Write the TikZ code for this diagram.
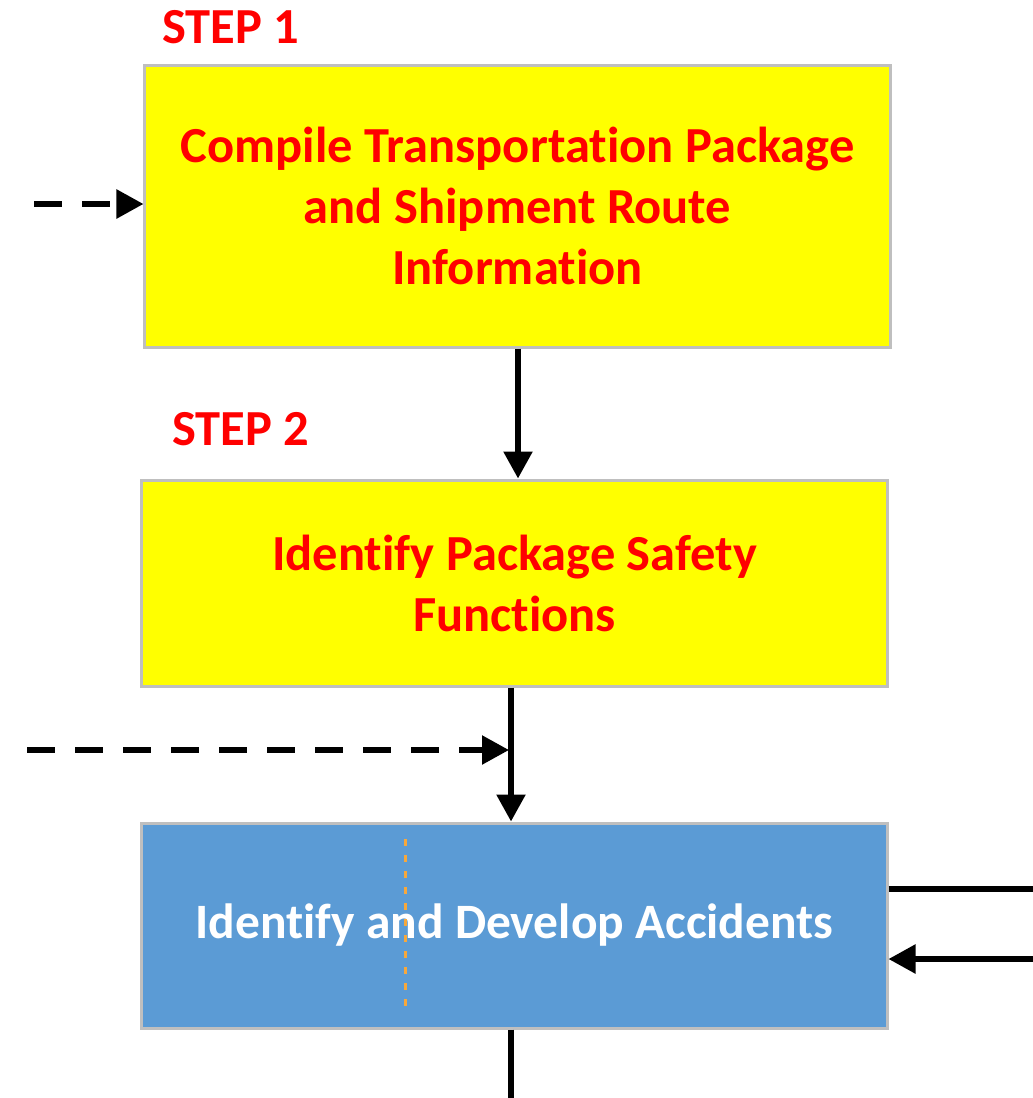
\documentclass[tikz,border=0pt]{standalone}
\usepackage{fontspec}
\setmainfont{Carlito}[Ligatures=NoCommon]
\usetikzlibrary{arrows.meta,calc}
\definecolor{stepred}{RGB}{255,0,0}
\definecolor{boxyellow}{RGB}{255,255,0}
\definecolor{boxblue}{RGB}{91,155,213}
\definecolor{boxedge}{RGB}{191,191,191}
\definecolor{guide}{RGB}{247,168,60}
\begin{document}
\begin{tikzpicture}[x=1bp,y=-1bp,
  box/.style={draw=boxedge, line width=3bp, rectangle, minimum width=745bp,
    align=center, inner sep=0pt,
    font=\bfseries\fontsize{50.5bp}{61bp}\selectfont},
  stepbox/.style={box, fill=boxyellow, text=stepred},
  taskbox/.style={box, fill=boxblue, text=white,
    font=\bfseries\fontsize{49.5bp}{61bp}\selectfont},
  steplabel/.style={anchor=base west, inner sep=0pt, text=stepred,
    font=\bfseries\fontsize{50.5bp}{61bp}\selectfont},
  plain/.style={line width=5.5bp},
  flow/.style={plain, -{Triangle[width=28bp,length=27bp]}},
  feed/.style={flow, dash pattern=on 28bp off 20bp},
  guideline/.style={draw=guide, line width=3bp, dash pattern=on 7bp off 9bp},
]
\useasboundingbox (0,0) rectangle (1033,1098);

% process boxes
\node[stepbox, minimum height=282bp] (b1) at (517.5,206)
  {Compile Transportation Package\\and Shipment Route\\Information};
\node[stepbox, minimum height=206bp] (b2) at (514.5,583)
  {Identify Package Safety\\Functions};
\node[taskbox, minimum height=205bp] (b3) at (514.5,925.5)
  {Identify and Develop Accidents};

% step labels
\node[steplabel] (s1) at (162,43) {STEP 1};
\node[steplabel] (s2) at (172,445) {STEP 2};

% thin orange guide inside the blue box
\coordinate (g1) at (405,839);
\coordinate (g2) at (405,1013);
\draw[guideline] (g1) -- (g2);

% free ends and junction
\coordinate (f1) at (34,204);
\coordinate (f2) at (27,750);
\coordinate (j) at (511,750);
\coordinate (o1) at (511,1098);
\coordinate (o2) at (1033,889);
\coordinate (i1) at (1033,959);

% connectors
\draw[flow] ([xshift=0.5bp]b1.south) -- ([xshift=0.5bp]b1.south |- b2.north);
\draw[flow] (b2.south -| j) -- (j |- b3.north);
\draw[feed] (f1) -- (f1 -| b1.west);
\draw[feed] (f2) -- ([xshift=-2bp]j);
\draw[plain] (b3.south -| j) -- (o1);
\draw[plain] (o2 -| b3.east) -- (o2);
\draw[flow] (i1) -- (i1 -| b3.east);
\end{tikzpicture}
\end{document}
